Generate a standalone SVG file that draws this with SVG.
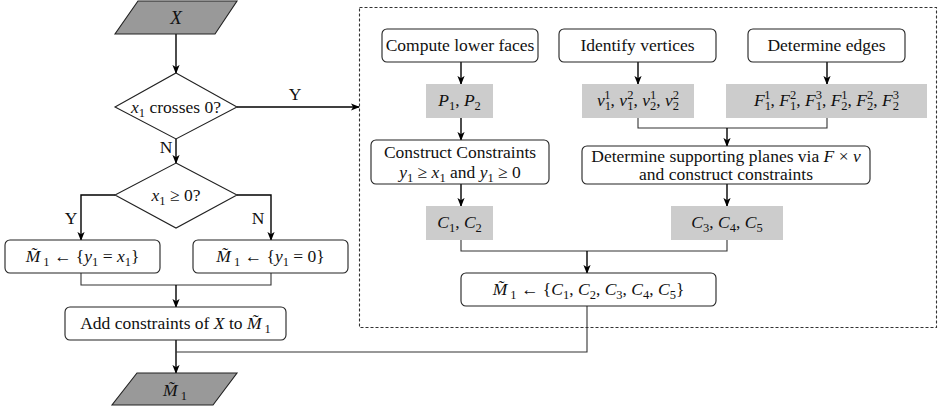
<svg xmlns="http://www.w3.org/2000/svg" width="940" height="412" viewBox="0 0 940 412">
<defs>
<marker id="ah" viewBox="0 0 10 10" refX="9" refY="5" markerWidth="9" markerHeight="9" markerUnits="userSpaceOnUse" orient="auto">
<path d="M0,1 L10,5 L0,9 L2.5,5 Z" fill="#000"/>
</marker>
<style>
text{font-family:"Liberation Serif","Times New Roman",serif;font-size:17.5px;fill:#111;text-anchor:middle}
.i{font-style:italic}
.s{font-size:12.5px;font-style:normal}
.box{fill:#fff;stroke:#222;stroke-width:1.1}
.g{fill:#cccccc;stroke:none}
.dk{fill:#999999;stroke:#222;stroke-width:1.1}
.ln{fill:none;stroke:#333;stroke-width:1.1}
.ar{fill:none;stroke:#000;stroke-width:1.4;marker-end:url(#ah)}
.dash{fill:none;stroke:#333;stroke-width:1.1;stroke-dasharray:3 2}
</style>
</defs>
<rect width="940" height="412" fill="#fff"/>

<rect class="dash" x="359.5" y="7.5" width="577" height="320"/>

<g id="connectors">
<line class="ar" x1="176" y1="34" x2="176" y2="73"/>
<line class="ar" x1="237" y1="107" x2="359" y2="107"/>
<line class="ar" x1="176" y1="139" x2="176" y2="163"/>
<polyline class="ar" points="115,195 81,195 81,240"/>
<polyline class="ar" points="237,195 271,195 271,240"/>
<polyline class="ln" points="81,273 81,285 271,285 271,273"/>
<line class="ar" x1="176" y1="285" x2="176" y2="307"/>
<line class="ar" x1="176" y1="340" x2="176" y2="373"/>
<polyline class="ln" points="587,306 587,352 176,352"/>
<line class="ar" x1="461" y1="62" x2="461" y2="84"/>
<line class="ar" x1="638" y1="62" x2="638" y2="84"/>
<line class="ar" x1="827" y1="62" x2="827" y2="84"/>
<line class="ar" x1="461" y1="118" x2="461" y2="140"/>
<polyline class="ln" points="638,118 638,128 827,128 827,118"/>
<line class="ar" x1="727" y1="128" x2="727" y2="146"/>
<line class="ar" x1="461" y1="184" x2="461" y2="206"/>
<line class="ar" x1="727" y1="184" x2="727" y2="206"/>
<polyline class="ln" points="461,240 461,251 727,251 727,240"/>
<line class="ar" x1="587" y1="251" x2="587" y2="273"/>
<text x="295" y="100">Y</text>
<text x="166" y="153">N</text>
<text x="71" y="224">Y</text>
<text x="258" y="224">N</text>
</g>

<g id="input">
<polygon class="dk" points="138,1 237,1 215,34 115,34"/>
<text x="176" y="24" class="i" style="font-size:19px">X</text>
</g>

<g id="dec1">
<polygon class="box" points="176,73 237,107 176,139 115,107"/>
<text x="176" y="113"><tspan class="i">x</tspan><tspan class="s" dy="4">1</tspan><tspan dy="-4"> crosses 0?</tspan></text>
</g>

<g id="dec2">
<polygon class="box" points="176,163 237,195 176,228 115,195"/>
<text x="176" y="201"><tspan class="i">x</tspan><tspan class="s" dy="4">1</tspan><tspan dy="-4"> ≥ 0?</tspan></text>
</g>

<g id="leftY">
<rect class="box" x="5" y="240" width="155" height="33" rx="5"/>
<text x="82.5" y="262"><tspan class="i">M̃</tspan><tspan class="s" dy="4"> 1</tspan><tspan dy="-4"> ← {</tspan><tspan class="i">y</tspan><tspan class="s" dy="4">1</tspan><tspan dy="-4"> = </tspan><tspan class="i">x</tspan><tspan class="s" dy="4">1</tspan><tspan dy="-4">}</tspan></text>
</g>

<g id="leftN">
<rect class="box" x="193" y="240" width="155" height="33" rx="5"/>
<text x="270.5" y="262"><tspan class="i">M̃</tspan><tspan class="s" dy="4"> 1</tspan><tspan dy="-4"> ← {</tspan><tspan class="i">y</tspan><tspan class="s" dy="4">1</tspan><tspan dy="-4"> = 0}</tspan></text>
</g>

<g id="addc">
<rect class="box" x="65" y="307" width="221" height="33" rx="5"/>
<text x="175.5" y="329">Add constraints of <tspan class="i">X</tspan> to <tspan class="i">M̃</tspan><tspan class="s" dy="4"> 1</tspan></text>
</g>

<g id="output">
<polygon class="dk" points="137,373 237,373 213,405 112,405"/>
<text x="175" y="396"><tspan class="i">M̃</tspan><tspan class="s" dy="4"> 1</tspan></text>
</g>

<g id="lower">
<rect class="box" x="382" y="29" width="156" height="33" rx="5"/>
<text x="460" y="51">Compute lower faces</text>
</g>
<g id="verts">
<rect class="box" x="559" y="29" width="157" height="33" rx="5"/>
<text x="637.5" y="51">Identify vertices</text>
</g>
<g id="edges">
<rect class="box" x="748" y="29" width="157" height="33" rx="5"/>
<text x="826.5" y="51">Determine edges</text>
</g>

<g id="P">
<rect class="g" x="426" y="84" width="67" height="34"/>
<text x="459.5" y="106"><tspan class="i">P</tspan><tspan class="s" dy="4">1</tspan><tspan dy="-4">, </tspan><tspan class="i">P</tspan><tspan class="s" dy="4">2</tspan></text>
</g>

<g id="V">
<rect class="g" x="582" y="84" width="112" height="34"/>
<text x="638" y="106"><tspan class="i">v</tspan><tspan class="s" dy="4">1</tspan><tspan class="s" dx="-6.25" dy="-11">1</tspan><tspan dy="7">, </tspan><tspan class="i">v</tspan><tspan class="s" dy="4">1</tspan><tspan class="s" dx="-6.25" dy="-11">2</tspan><tspan dy="7">, </tspan><tspan class="i">v</tspan><tspan class="s" dy="4">2</tspan><tspan class="s" dx="-6.25" dy="-11">1</tspan><tspan dy="7">, </tspan><tspan class="i">v</tspan><tspan class="s" dy="4">2</tspan><tspan class="s" dx="-6.25" dy="-11">2</tspan></text>
</g>

<g id="F">
<rect class="g" x="726" y="84" width="201" height="34"/>
<text x="826.5" y="106"><tspan class="i">F</tspan><tspan class="s" dy="4">1</tspan><tspan class="s" dx="-6.25" dy="-11">1</tspan><tspan dy="7">, </tspan><tspan class="i">F</tspan><tspan class="s" dy="4">1</tspan><tspan class="s" dx="-6.25" dy="-11">2</tspan><tspan dy="7">, </tspan><tspan class="i">F</tspan><tspan class="s" dy="4">1</tspan><tspan class="s" dx="-6.25" dy="-11">3</tspan><tspan dy="7">, </tspan><tspan class="i">F</tspan><tspan class="s" dy="4">2</tspan><tspan class="s" dx="-6.25" dy="-11">1</tspan><tspan dy="7">, </tspan><tspan class="i">F</tspan><tspan class="s" dy="4">2</tspan><tspan class="s" dx="-6.25" dy="-11">2</tspan><tspan dy="7">, </tspan><tspan class="i">F</tspan><tspan class="s" dy="4">2</tspan><tspan class="s" dx="-6.25" dy="-11">3</tspan></text>
</g>

<g id="construct">
<rect class="box" x="371" y="140" width="178" height="44" rx="5"/>
<text x="460" y="158">Construct Constraints</text>
<text x="460" y="178"><tspan class="i">y</tspan><tspan class="s" dy="4">1</tspan><tspan dy="-4"> ≥ </tspan><tspan class="i">x</tspan><tspan class="s" dy="4">1</tspan><tspan dy="-4"> and </tspan><tspan class="i">y</tspan><tspan class="s" dy="4">1</tspan><tspan dy="-4"> ≥ 0</tspan></text>
</g>

<g id="planes">
<rect class="box" x="582" y="146" width="288" height="38" rx="5"/>
<text x="726" y="162">Determine supporting planes via <tspan class="i">F</tspan> × <tspan class="i">v</tspan></text>
<text x="726" y="180">and construct constraints</text>
</g>

<g id="C12">
<rect class="g" x="426" y="206" width="67" height="34"/>
<text x="459.5" y="228"><tspan class="i">C</tspan><tspan class="s" dy="4">1</tspan><tspan dy="-4">, </tspan><tspan class="i">C</tspan><tspan class="s" dy="4">2</tspan></text>
</g>

<g id="C345">
<rect class="g" x="671" y="206" width="112" height="34"/>
<text x="727" y="228"><tspan class="i">C</tspan><tspan class="s" dy="4">3</tspan><tspan dy="-4">, </tspan><tspan class="i">C</tspan><tspan class="s" dy="4">4</tspan><tspan dy="-4">, </tspan><tspan class="i">C</tspan><tspan class="s" dy="4">5</tspan></text>
</g>

<g id="final">
<rect class="box" x="461" y="273" width="255" height="33" rx="5"/>
<text x="588.5" y="295"><tspan class="i">M̃</tspan><tspan class="s" dy="4"> 1</tspan><tspan dy="-4"> ← {</tspan><tspan class="i">C</tspan><tspan class="s" dy="4">1</tspan><tspan dy="-4">, </tspan><tspan class="i">C</tspan><tspan class="s" dy="4">2</tspan><tspan dy="-4">, </tspan><tspan class="i">C</tspan><tspan class="s" dy="4">3</tspan><tspan dy="-4">, </tspan><tspan class="i">C</tspan><tspan class="s" dy="4">4</tspan><tspan dy="-4">, </tspan><tspan class="i">C</tspan><tspan class="s" dy="4">5</tspan><tspan dy="-4">}</tspan></text>
</g>
</svg>
